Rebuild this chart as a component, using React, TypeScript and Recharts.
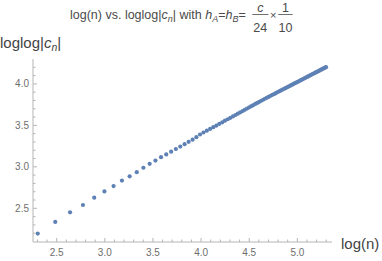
import { ScatterChart, Scatter, XAxis, YAxis } from 'recharts'

// x = log(n) for n = 10, 12, ..., 200
const logN = [
  2.303, 2.485, 2.639, 2.773, 2.890, 2.996, 3.091, 3.178, 3.258, 3.332,
  3.401, 3.466, 3.526, 3.584, 3.638, 3.689, 3.738, 3.784, 3.829, 3.871,
  3.912, 3.951, 3.989, 4.025, 4.060, 4.094, 4.127, 4.159, 4.190, 4.220,
  4.248, 4.277, 4.304, 4.331, 4.357, 4.382, 4.407, 4.431, 4.454, 4.477,
  4.500, 4.522, 4.543, 4.564, 4.585, 4.605, 4.625, 4.644, 4.663, 4.682,
  4.701, 4.718, 4.736, 4.754, 4.771, 4.787, 4.804, 4.820, 4.836, 4.852,
  4.868, 4.883, 4.898, 4.913, 4.927, 4.942, 4.956, 4.970, 4.984, 4.997,
  5.011, 5.024, 5.037, 5.050, 5.063, 5.075, 5.088, 5.100, 5.112, 5.124,
  5.136, 5.148, 5.159, 5.170, 5.182, 5.193, 5.204, 5.215, 5.226, 5.236,
  5.247, 5.257, 5.268, 5.278, 5.288, 5.298,
]

// y = loglog|c_n|
const loglogC = [
  2.196, 2.336, 2.452, 2.540, 2.628, 2.704, 2.768, 2.834, 2.886, 2.936,
  2.989, 3.036, 3.076, 3.116, 3.150, 3.183, 3.215, 3.244, 3.273, 3.301,
  3.328, 3.358, 3.390, 3.414, 3.436, 3.457, 3.478, 3.498, 3.518, 3.537,
  3.556, 3.574, 3.591, 3.608, 3.625, 3.641, 3.657, 3.672, 3.687, 3.702,
  3.717, 3.731, 3.744, 3.758, 3.771, 3.784, 3.797, 3.809, 3.821, 3.832,
  3.843, 3.854, 3.865, 3.875, 3.885, 3.896, 3.905, 3.915, 3.925, 3.934,
  3.944, 3.953, 3.962, 3.971, 3.979, 3.988, 3.997, 4.005, 4.013, 4.021,
  4.029, 4.037, 4.045, 4.053, 4.061, 4.068, 4.076, 4.083, 4.090, 4.097,
  4.105, 4.112, 4.119, 4.125, 4.132, 4.139, 4.145, 4.152, 4.158, 4.165,
  4.171, 4.178, 4.184, 4.190, 4.196, 4.202,
]

const xTicks = [
  2.3, 2.4, 2.5, 2.6, 2.7, 2.8, 2.9, 3.0, 3.1, 3.2, 3.3, 3.4, 3.5, 3.6, 3.7, 3.8,
  3.9, 4.0, 4.1, 4.2, 4.3, 4.4, 4.5, 4.6, 4.7, 4.8, 4.9, 5.0, 5.1, 5.2, 5.3,
]
const yTicks = [
  2.2, 2.3, 2.4, 2.5, 2.6, 2.7, 2.8, 2.9, 3.0, 3.1, 3.2, 3.3, 3.4, 3.5, 3.6, 3.7,
  3.8, 3.9, 4.0, 4.1, 4.2,
]

const data = logN.map((x, i) => ({ x, y: loglogC[i] }))

const FONT = '"Liberation Sans", Arial, sans-serif'
const AXIS = '#b5b5b5'
const TICK_TEXT = '#6e6e6e'
const DOT = '#5E81B5'

const isMajor = (v: number) => Math.abs(v * 2 - Math.round(v * 2)) < 1e-6

function XTick({ x, y, payload }: any) {
  const v = payload.value
  const major = isMajor(v)
  return (
    <g>
      <line x1={x} y1={y} x2={x} y2={y - (major ? 4 : 2.5)} stroke={AXIS} />
      {major && (
        <text x={x} y={y + 14} textAnchor="middle" fontSize={10} fill={TICK_TEXT} fontFamily={FONT}>
          {v.toFixed(1)}
        </text>
      )}
    </g>
  )
}

function YTick({ x, y, payload }: any) {
  const v = payload.value
  const major = isMajor(v)
  return (
    <g>
      <line x1={x} y1={y} x2={x + (major ? 4 : 2.5)} y2={y} stroke={AXIS} />
      {major && (
        <text x={x - 4} y={y + 3.6} textAnchor="end" fontSize={10} fill={TICK_TEXT} fontFamily={FONT}>
          {v.toFixed(1)}
        </text>
      )}
    </g>
  )
}

const Dot = (p: any) => <circle cx={p.cx} cy={p.cy} r={2.1} fill={DOT} />

export default function App() {
  return (
    <div style={{ position: 'absolute', left: 0, top: 0, width: 382, height: 261, background: '#fff' }}>
      <ScatterChart width={382} height={261} margin={{ top: 59, right: 50, bottom: 0, left: 0 }}>
        <XAxis
          dataKey="x"
          type="number"
          domain={[2.254, 5.36]}
          allowDataOverflow
          ticks={xTicks}
          interval={0}
          height={19}
          axisLine={{ stroke: AXIS }}
          tickLine={false}
          tickSize={0}
          tickMargin={0}
          tick={(props: any) => <XTick {...props} />}
        />
        <YAxis
          dataKey="y"
          type="number"
          domain={[2.094, 4.3]}
          allowDataOverflow
          ticks={yTicks}
          interval={0}
          width={33}
          axisLine={{ stroke: AXIS }}
          tickLine={false}
          tickSize={0}
          tickMargin={0}
          tick={(props: any) => <YTick {...props} />}
        />
        <Scatter data={data} shape={Dot} isAnimationActive={false} />
      </ScatterChart>
      <svg
        width={382}
        height={261}
        style={{ position: 'absolute', left: 0, top: 0, pointerEvents: 'none' }}
        fontFamily={FONT}
      >
        <g fill="#4a4a4a" fontSize={12.5}>
          <text x={70} y={19}>
            log(n) vs. loglog|
            <tspan fontStyle="italic">c</tspan>
            <tspan fontStyle="italic" fontSize={9} dy={3}>n</tspan>
            <tspan dy={-3}>| with </tspan>
            <tspan fontStyle="italic">h</tspan>
            <tspan fontStyle="italic" fontSize={9} dy={3}>A</tspan>
            <tspan dy={-3}>=</tspan>
            <tspan fontStyle="italic">h</tspan>
            <tspan fontStyle="italic" fontSize={9} dy={3}>B</tspan>
            <tspan dy={-3}>=</tspan>
          </text>
          <text x={260.3} y={11.7} textAnchor="middle" fontStyle="italic">c</text>
          <line x1={252.3} y1={14.5} x2={268.3} y2={14.5} stroke="#4a4a4a" strokeWidth={0.8} />
          <text x={260.3} y={31.5} textAnchor="middle">24</text>
          <text x={273.3} y={18.5} textAnchor="middle" fontSize={11}>×</text>
          <text x={285.5} y={11.7} textAnchor="middle">1</text>
          <line x1={278.3} y1={14.5} x2={292.7} y2={14.5} stroke="#4a4a4a" strokeWidth={0.8} />
          <text x={285.5} y={31.5} textAnchor="middle">10</text>
        </g>
        <text x={0} y={47.7} fontSize={15} fill="#444">
          loglog|
          <tspan fontStyle="italic">c</tspan>
          <tspan fontStyle="italic" fontSize={10.5} dy={3.5}>n</tspan>
          <tspan dy={-3.5}>|</tspan>
        </text>
        <text x={341} y={248.7} fontSize={15} fill="#444">log(n)</text>
      </svg>
    </div>
  )
}
